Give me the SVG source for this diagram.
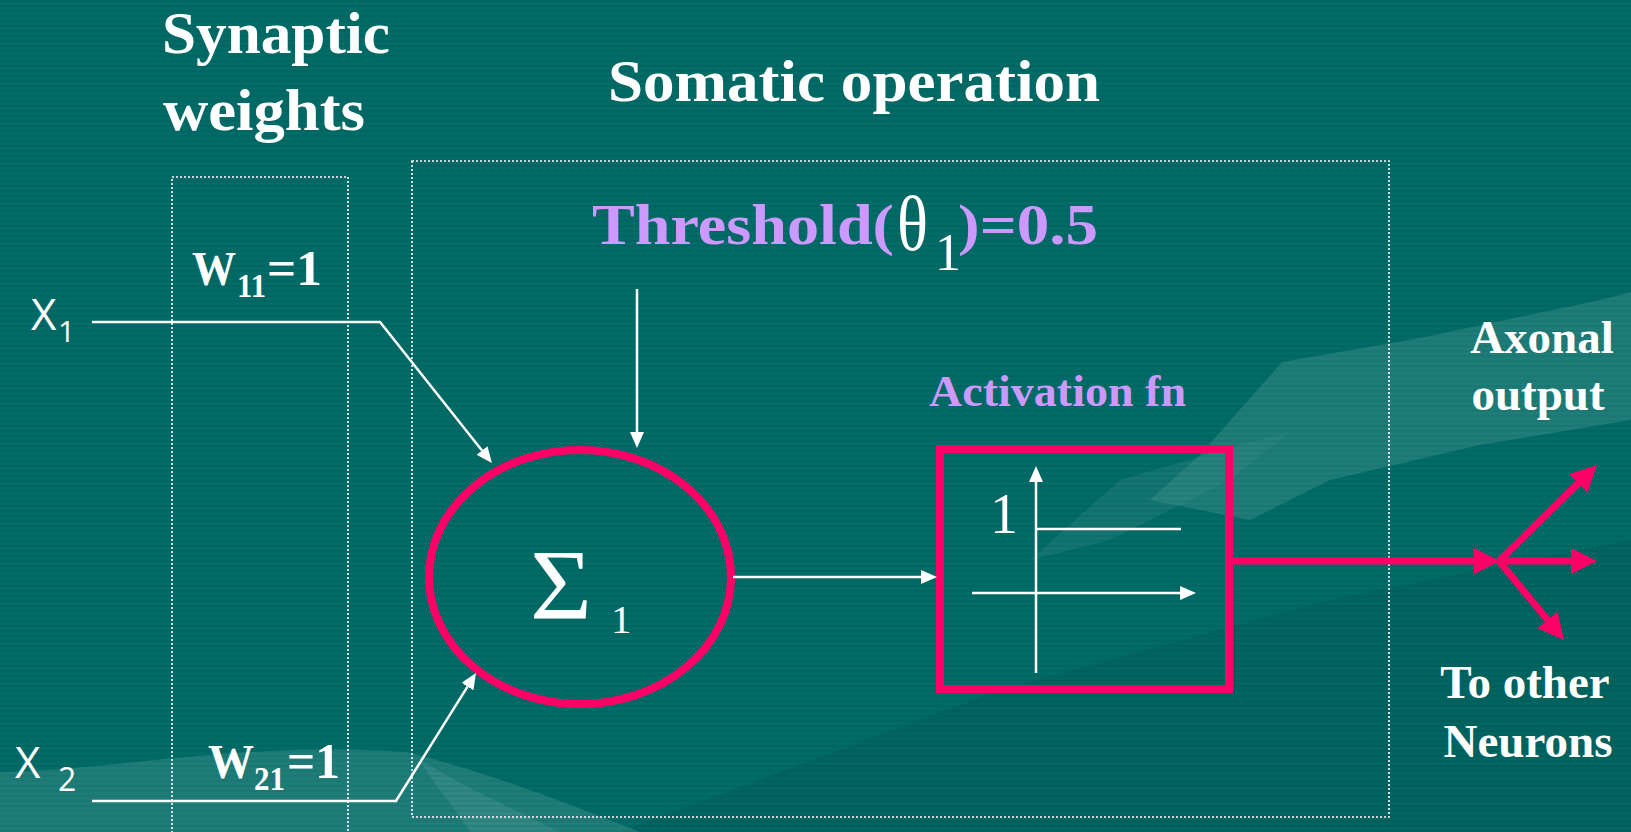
<svg xmlns="http://www.w3.org/2000/svg" width="1631" height="832" viewBox="0 0 1631 832">
  <style>
    .serif { font-family: "Liberation Serif", "Times New Roman", serif; }
    .title { font-family: "Liberation Serif", serif; font-weight: bold; font-size: 60px; fill: #ffffff; }
    .side { font-family: "Liberation Serif", serif; font-weight: bold; font-size: 47px; fill: #ffffff; text-anchor: middle; }
    .lav { fill: #cc99ff; }
    .sans { font-family: "Open Sans", "Liberation Sans", sans-serif; fill: #ffffff; }
    .wline { stroke: #ffffff; stroke-width: 2.5; fill: none; }
    .pline { stroke: #ff0066; stroke-width: 7; fill: none; }
    .dot { stroke: #ffffff; stroke-width: 1.6; fill: none; stroke-dasharray: 2 2; }
  </style>
  <defs>
    <pattern id="stripes" width="8" height="5" patternUnits="userSpaceOnUse">
      <rect width="8" height="2" fill="#000000" opacity="0.06"/>
    </pattern>
    <marker id="wa" viewBox="0 0 16 14" refX="0" refY="7" markerWidth="16" markerHeight="14" markerUnits="userSpaceOnUse" orient="auto">
      <path d="M0,0 L16,7 L0,14 z" fill="#ffffff"/>
    </marker>
    <marker id="pa" viewBox="0 0 26 26" refX="0" refY="13" markerWidth="26" markerHeight="26" markerUnits="userSpaceOnUse" orient="auto">
      <path d="M0,0 L26,13 L0,26 z" fill="#ff0066"/>
    </marker>
  </defs>

  <!-- background -->
  <rect width="1631" height="832" fill="#016b67"/>
  <path d="M620,832 L1000,690 L1330,600 L1631,540 L1631,832 Z" fill="#004f4f" opacity="0.25"/>
  <path d="M0,772 C120,770 250,740 406,752 C480,770 560,800 640,832 L0,832 Z" fill="#3c8f8a" opacity="0.5"/>
  <path d="M420,760 C470,790 520,812 560,832 L470,832 C450,800 430,780 420,760 Z" fill="#5aa39e" opacity="0.3"/>
  <path d="M1150,500 L1200,455 L1282,362 L1420,338 L1600,300 L1631,292 L1631,420 L1480,445 L1330,480 L1250,520 Z" fill="#3c8f8a" opacity="0.5"/>
  <path d="M1030,560 L1120,480 L1240,445 L1290,432 L1230,480 L1110,540 Z" fill="#3c8f8a" opacity="0.3"/>
  <rect width="1631" height="832" fill="url(#stripes)"/>

  <!-- titles -->
  <g id="synaptic-title">
    <text class="title" x="162" y="53" textLength="228" lengthAdjust="spacingAndGlyphs">Synaptic</text>
    <text class="title" x="163" y="130" textLength="202" lengthAdjust="spacingAndGlyphs">weights</text>
  </g>
  <g id="somatic-title">
    <text class="title" x="608" y="101" textLength="492" lengthAdjust="spacingAndGlyphs">Somatic operation</text>
  </g>

  <!-- dotted regions -->
  <g id="synaptic-box">
    <rect class="dot" x="172" y="177" width="176" height="680"/>
  </g>
  <g id="somatic-box">
    <rect class="dot" x="412" y="161" width="977" height="656"/>
  </g>

  <!-- inputs -->
  <g id="x1">
    <text class="sans" x="31" y="330" font-size="44">X</text>
    <text class="sans" x="58" y="342" font-size="30">1</text>
  </g>
  <g id="x2">
    <text class="sans" x="15" y="778" font-size="44">X</text>
    <text class="sans" x="58" y="791" font-size="32">2</text>
  </g>
  <g id="w11">
    <text class="serif" fill="#ffffff" font-weight="bold" x="192" y="285" font-size="48" textLength="44" lengthAdjust="spacingAndGlyphs">W</text>
    <text class="serif" fill="#ffffff" font-weight="bold" x="237" y="297" font-size="33" textLength="29" lengthAdjust="spacingAndGlyphs">11</text>
    <text class="serif" fill="#ffffff" font-weight="bold" x="267" y="285" font-size="50" textLength="55" lengthAdjust="spacingAndGlyphs">=1</text>
  </g>
  <g id="w21">
    <text class="serif" fill="#ffffff" font-weight="bold" x="208" y="778" font-size="48" textLength="46" lengthAdjust="spacingAndGlyphs">W</text>
    <text class="serif" fill="#ffffff" font-weight="bold" x="254" y="790" font-size="33" textLength="31" lengthAdjust="spacingAndGlyphs">21</text>
    <text class="serif" fill="#ffffff" font-weight="bold" x="287" y="778" font-size="50" textLength="53" lengthAdjust="spacingAndGlyphs">=1</text>
  </g>

  <!-- threshold -->
  <g id="threshold">
    <text class="serif lav" font-weight="bold" x="592" y="244" font-size="58" textLength="302" lengthAdjust="spacingAndGlyphs">Threshold(</text>
    <text class="serif" fill="#ffffff" x="897" y="250" font-size="78" textLength="31" lengthAdjust="spacingAndGlyphs">θ</text>
    <text class="serif" fill="#ffffff" x="935" y="270" font-size="52">1</text>
    <text class="serif lav" font-weight="bold" x="958" y="244" font-size="58" textLength="140" lengthAdjust="spacingAndGlyphs">)=0.5</text>
  </g>

  <!-- summation node -->
  <g id="sum">
    <ellipse cx="580" cy="577" rx="151" ry="127" fill="none" stroke="#ff0066" stroke-width="8"/>
    <text class="serif" fill="#ffffff" x="530" y="618" font-size="100" textLength="62" lengthAdjust="spacingAndGlyphs">Σ</text>
    <text class="serif" fill="#ffffff" x="611" y="633" font-size="41">1</text>
  </g>

  <!-- activation function -->
  <g id="activation">
    <text class="serif lav" font-weight="bold" x="929" y="406" font-size="45" textLength="257" lengthAdjust="spacingAndGlyphs">Activation fn</text>
    <rect x="940" y="449" width="289" height="240" fill="none" stroke="#ff0066" stroke-width="8"/>
    <line class="wline" x1="1036" y1="673" x2="1036" y2="482" marker-end="url(#wa)"/>
    <line class="wline" x1="972" y1="593" x2="1180" y2="593" marker-end="url(#wa)"/>
    <line class="wline" x1="1036" y1="529" x2="1181" y2="529"/>
    <text class="serif" fill="#ffffff" x="990" y="533" font-size="56">1</text>
  </g>

  <!-- output labels -->
  <g id="axonal-output">
    <text class="side" x="1542" y="353">Axonal</text>
    <text class="side" x="1538" y="410">output</text>
  </g>
  <g id="to-other-neurons">
    <text class="side" x="1525" y="698">To other</text>
    <text class="side" x="1528" y="757">Neurons</text>
  </g>

  <!-- connectors -->
  <g id="connectors">
    <polyline class="wline" points="92,322 380,322 482,450.5" marker-end="url(#wa)"/>
    <polyline class="wline" points="92,801 396,801 467.5,686.6" marker-end="url(#wa)"/>
    <line class="wline" x1="637" y1="289" x2="637" y2="432" marker-end="url(#wa)"/>
    <line class="wline" x1="733" y1="577" x2="921" y2="577" marker-end="url(#wa)"/>
    <line class="pline" x1="1233" y1="561" x2="1474" y2="561" marker-end="url(#pa)"/>
    <line class="pline" x1="1499" y1="561" x2="1578.4" y2="483.2" marker-end="url(#pa)"/>
    <line class="pline" x1="1499" y1="561" x2="1571" y2="561" marker-end="url(#pa)"/>
    <line class="pline" x1="1499" y1="561" x2="1547.5" y2="619.9" marker-end="url(#pa)"/>
  </g>
</svg>
